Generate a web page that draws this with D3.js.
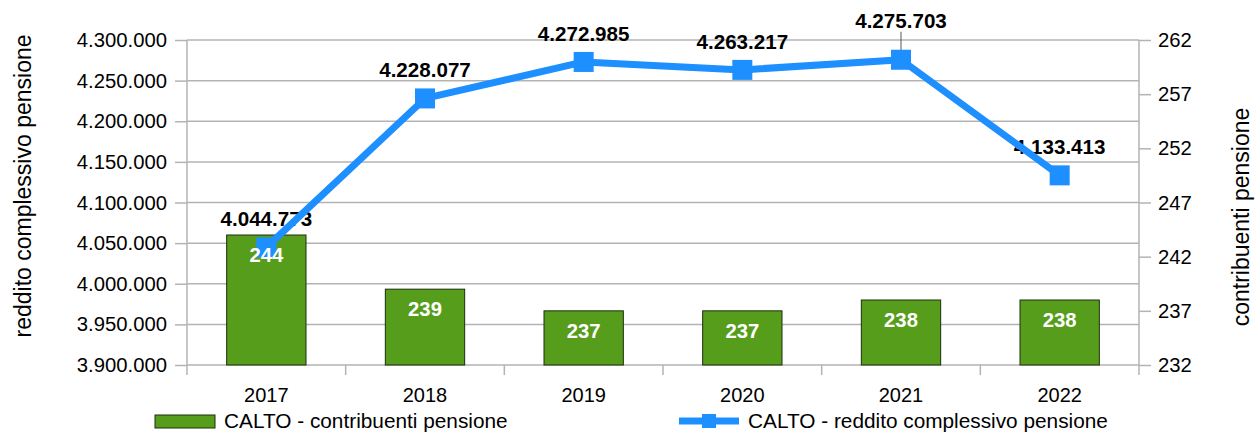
<!DOCTYPE html>
<html>
<head>
<meta charset="utf-8">
<script src="https://cdn.jsdelivr.net/npm/d3@7"></script>
<style>
  body { margin: 0; background: #fff; }
  svg { font-family: "Liberation Sans", Arial, sans-serif; }
</style>
</head>
<body>
<div class="bg"></div>
<script>
const years = ["2017", "2018", "2019", "2020", "2021", "2022"];
const contribuenti = [244, 239, 237, 237, 238, 238];
const reddito = [4044773, 4228077, 4272985, 4263217, 4275703, 4133413];
const leftTicks = [3900000, 3950000, 4000000, 4050000, 4100000, 4150000, 4200000, 4250000, 4300000];
const rightTicks = [232, 237, 242, 247, 252, 257, 262];
const barName = "CALTO - contribuenti pensione";
const lineName = "CALTO - reddito complessivo pensione";

const margin = { top: 40, right: 119, bottom: 67, left: 187 };
const width = 1258 - margin.left - margin.right;
const height = 432 - margin.top - margin.bottom;

const green = "#579d1c";
const blue = "#1e8fff";
const grid = "#b3b3b3";

const it = d3.formatLocale({ decimal: ",", thousands: ".", grouping: [3], currency: ["€", ""] });
const fmt = it.format(",d");

const svg = d3.select(".bg").append("svg")
  .attr("width", 1258)
  .attr("height", 432)
  .append("g")
  .attr("transform", "translate(" + margin.left + "," + margin.top + ")");

const xScale = d3.scaleBand().domain(years).range([0, width]).paddingInner(0.5).paddingOuter(0.25);
const yLeft = d3.scaleLinear().domain([3900000, 4300000]).range([height, 0]);
const yRight = d3.scaleLinear().domain([232, 262]).range([height, 0]);

// horizontal grid
svg.append("g")
  .selectAll("line")
  .data(leftTicks)
  .join("line")
  .attr("x1", 0).attr("x2", width)
  .attr("y1", d => yLeft(d)).attr("y2", d => yLeft(d))
  .attr("stroke", grid).attr("stroke-width", 1.5);

// left axis
const leftAxis = svg.append("g")
  .call(d3.axisLeft(yLeft).tickValues(leftTicks).tickFormat(fmt).tickSize(12).tickPadding(8));
leftAxis.select(".domain").remove();
leftAxis.selectAll(".tick line").attr("stroke", grid).attr("stroke-width", 1.5);
leftAxis.selectAll("text").attr("font-size", 20.3).attr("fill", "#000")
  .attr("font-family", "Liberation Sans, Arial, sans-serif");

// right axis
const rightAxis = svg.append("g")
  .attr("transform", "translate(" + width + ",0)")
  .call(d3.axisRight(yRight).tickValues(rightTicks).tickSize(12).tickPadding(7));
rightAxis.select(".domain").remove();
rightAxis.selectAll(".tick line").attr("stroke", grid).attr("stroke-width", 1.5);
rightAxis.selectAll("text").attr("font-size", 20.3).attr("fill", "#000")
  .attr("font-family", "Liberation Sans, Arial, sans-serif");

// vertical axis lines extended down to the category ticks
const step = xScale.step();
svg.append("g")
  .selectAll("line")
  .data(d3.range(years.length + 1))
  .join("line")
  .attr("x1", i => i * step).attr("x2", i => i * step)
  .attr("y1", i => (i === 0 || i === years.length) ? 0 : height)
  .attr("y2", height + 10)
  .attr("stroke", grid).attr("stroke-width", 1.5);

// x labels
svg.append("g")
  .selectAll("text")
  .data(years)
  .join("text")
  .attr("x", d => xScale(d) + xScale.bandwidth() / 2)
  .attr("y", height + 37)
  .attr("text-anchor", "middle")
  .attr("font-size", 20)
  .text(d => d);

// bars
svg.append("g")
  .selectAll("rect")
  .data(contribuenti)
  .join("rect")
  .attr("x", (d, i) => xScale(years[i]))
  .attr("y", d => yRight(d))
  .attr("width", xScale.bandwidth())
  .attr("height", d => height - yRight(d))
  .attr("fill", green)
  .attr("stroke", "#1c2e0c")
  .attr("stroke-width", 1);

// line labels
const cx = i => xScale(years[i]) + xScale.bandwidth() / 2;
const maxIdx = d3.maxIndex(reddito);
const lblY = (d, i) => yLeft(d) - 21 - (i === maxIdx ? 11 : 0);

svg.append("line")
  .attr("x1", cx(maxIdx)).attr("x2", cx(maxIdx))
  .attr("y1", lblY(reddito[maxIdx], maxIdx) + 4)
  .attr("y2", yLeft(reddito[maxIdx]) - 8)
  .attr("stroke", "#555").attr("stroke-width", 1);

svg.append("g")
  .selectAll("text")
  .data(reddito)
  .join("text")
  .attr("x", (d, i) => cx(i))
  .attr("y", lblY)
  .attr("text-anchor", "middle")
  .attr("font-size", 20.6)
  .attr("font-weight", "bold")
  .text(d => fmt(d));

// line
const line = d3.line()
  .x((d, i) => cx(i))
  .y(d => yLeft(d));

svg.append("path")
  .datum(reddito)
  .attr("d", line)
  .attr("fill", "none")
  .attr("stroke", blue)
  .attr("stroke-width", 7)
  .attr("stroke-linejoin", "round");

svg.append("g")
  .selectAll("rect")
  .data(reddito)
  .join("rect")
  .attr("x", (d, i) => cx(i) - 10)
  .attr("y", d => yLeft(d) - 10)
  .attr("width", 20)
  .attr("height", 20)
  .attr("fill", blue);

// bar labels
svg.append("g")
  .selectAll("text")
  .data(contribuenti)
  .join("text")
  .attr("x", (d, i) => cx(i))
  .attr("y", d => yRight(d) + 27)
  .attr("text-anchor", "middle")
  .attr("font-size", 20.3)
  .attr("font-weight", "bold")
  .attr("fill", "#fff")
  .text(d => d);

// axis titles
svg.append("text")
  .attr("transform", "translate(" + (-156) + "," + (146) + ") rotate(-90)")
  .attr("text-anchor", "middle")
  .attr("font-size", 23)
  .text("reddito complessivo pensione");

svg.append("text")
  .attr("transform", "translate(" + (width + 110) + "," + (177) + ") rotate(-90)")
  .attr("text-anchor", "middle")
  .attr("font-size", 23)
  .text("contribuenti pensione");

// legend
const legend = d3.select(".bg svg").append("g");
legend.append("rect")
  .attr("x", 155).attr("y", 415).attr("width", 60).attr("height", 13)
  .attr("fill", green).attr("stroke", "#1c2e0c").attr("stroke-width", 1);
legend.append("text")
  .attr("x", 224).attr("y", 428).attr("font-size", 20.8).text(barName);

legend.append("line")
  .attr("x1", 679).attr("x2", 739).attr("y1", 421).attr("y2", 421)
  .attr("stroke", blue).attr("stroke-width", 7);
legend.append("rect")
  .attr("x", 702).attr("y", 414).attr("width", 14).attr("height", 14)
  .attr("fill", blue);
legend.append("text")
  .attr("x", 748).attr("y", 428).attr("font-size", 20.8).text(lineName);
</script>
</body>
</html>
